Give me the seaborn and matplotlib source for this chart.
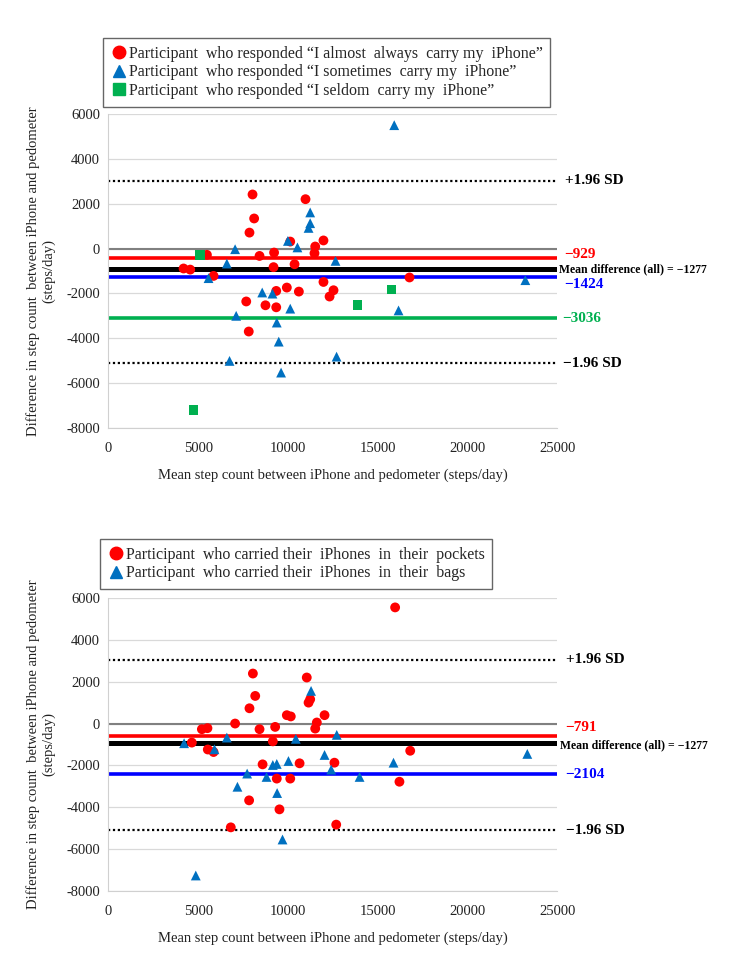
import matplotlib
matplotlib.use("Agg")
import matplotlib.pyplot as plt
from matplotlib.lines import Line2D
import seaborn as sns
import pandas as pd

sns.set_style("white")
plt.rcParams['font.family'] = ['Liberation Serif', 'DejaVu Serif']
plt.rcParams['axes.unicode_minus'] = False

# ---- top panel: by self-reported carrying frequency ----
always_x = [4180, 4550, 5480, 5850, 8020, 8110, 7850, 8410, 7670, 7810, 8740, 9340, 9340, 9220,
            9190, 9930, 10120, 10360, 10600, 10970, 11510, 11470, 11970, 11970, 12530, 12310, 16760]
always_y = [-890, -940, -280, -1220, 2410, 1340, 710, -330, -2360, -3700, -2530, -1890, -2620, -180,
            -830, -1740, 310, -700, -1920, 2200, 90, -210, 360, -1490, -1860, -2140, -1290]
sometimes_x = [15910, 7050, 6590, 5570, 8560, 9130, 7110, 9370, 9480, 6740, 9610, 9990, 10520,
               11230, 11230, 11140, 12640, 12700, 10120, 16150, 23210]
sometimes_y = [5500, -30, -670, -1320, -1960, -2010, -3000, -3300, -4150, -5010, -5530, 340, 50,
               1610, 1130, 920, -550, -4820, -2680, -2760, -1410]
seldom_x = [5100, 4730, 13860, 15760]
seldom_y = [-280, -7210, -2500, -1830]

# ---- bottom panel: by carrying location ----
pocket_x = [15960, 8040, 8170, 7850, 7050, 5200, 5510, 5530, 5850, 4640, 8410, 9280, 9150, 8580,
            9370, 10120, 10640, 7830, 9520, 6810, 12680, 9930, 10150, 11040, 11230, 11140, 11600,
            11510, 12030, 12580, 16200, 16800]
pocket_y = [5550, 2390, 1320, 730, 0, -270, -220, -1240, -1360, -910, -270, -160, -850, -1950,
            -2630, -2630, -1900, -3670, -4100, -4960, -4830, 400, 340, 2200, 1160, 1000, 50,
            -240, 400, -1870, -2780, -1300]
bag_x = [4210, 4860, 5900, 6590, 7180, 7720, 8800, 9150, 9370, 9390, 9690, 10020, 10430, 11280,
         12030, 12400, 12710, 13980, 15870, 23320]
bag_y = [-940, -7260, -1230, -670, -3020, -2390, -2550, -1980, -1930, -3320, -5540, -1790, -730,
         1560, -1500, -2200, -540, -2550, -1870, -1450]

# reference lines as drawn in the figure, with their printed labels
top_lines = [3020, -400, -920, -1290, -3100, -5110]
top_labels = ['+1.96 SD', '\u2212929', 'Mean difference (all) = \u22121277', '\u22121424',
              '\u22123036', '\u22121.96 SD']
bot_lines = [3050, -610, -910, -2420, -5100]
bot_labels = ['+1.96 SD', '\u2212791', 'Mean difference (all) = \u22121277', '\u22122104',
              '\u22121.96 SD']

top_groups = ['Participant  who responded \u201cI almost  always  carry my  iPhone\u201d',
              'Participant  who responded \u201cI sometimes  carry my  iPhone\u201d',
              'Participant  who responded \u201cI seldom  carry my  iPhone\u201d']
bot_groups = ['Participant  who carried their  iPhones  in  their  pockets',
              'Participant  who carried their  iPhones  in  their  bags']

RED, BLUE, GREEN = '#ff0000', '#0070c0', '#00b050'

top_df = pd.concat([
    pd.DataFrame({'x': always_x, 'y': always_y, 'g': top_groups[0]}),
    pd.DataFrame({'x': sometimes_x, 'y': sometimes_y, 'g': top_groups[1]}),
    pd.DataFrame({'x': seldom_x, 'y': seldom_y, 'g': top_groups[2]}),
])
bot_df = pd.concat([
    pd.DataFrame({'x': pocket_x, 'y': pocket_y, 'g': bot_groups[0]}),
    pd.DataFrame({'x': bag_x, 'y': bag_y, 'g': bot_groups[1]}),
])

fig = plt.figure(figsize=(7.38, 9.6), dpi=100)
ax1 = fig.add_axes([0.147, 0.5542, 0.6084, 0.3271])
ax2 = fig.add_axes([0.147, 0.0719, 0.6084, 0.3052])

fs = 10.5
xlab = 'Mean step count between iPhone and pedometer (steps/day)'
ylab = 'Difference in step count  between iPhone and pedometer\n(steps/day)'


def style_axis(ax):
    ax.set_xlim(0, 25000)
    ax.set_ylim(-8000, 6000)
    ax.set_xticks(range(0, 25001, 5000))
    ax.set_yticks(range(-8000, 6001, 2000))
    ax.yaxis.grid(True, color='#d9d9d9', lw=0.9)
    ax.xaxis.grid(False)
    ax.set_axisbelow(True)
    for s in ['top', 'right']:
        ax.spines[s].set_visible(False)
    for s in ['left', 'bottom']:
        ax.spines[s].set_color('#d0d0d0')
    ax.tick_params(axis='y', length=0, labelsize=fs, labelcolor='#222222', pad=6)
    ax.tick_params(axis='x', length=0, labelsize=fs, labelcolor='#222222', pad=10)
    ax.axhline(0, color='#808080', lw=1.5, zorder=1)


def ref_lines(ax, values, labels, colors, widths, styles, offsets, xs, sizes):
    for v, lab, c, w, ls, off, xpos, sz in zip(values, labels, colors, widths, styles, offsets, xs, sizes):
        ax.axhline(v, color=c, lw=w, ls=ls, zorder=2)
        ax.annotate(lab, xy=(xpos, v), xycoords=('axes fraction', 'data'), xytext=(0, off),
                    textcoords='offset points', va='center', ha='left', color=c,
                    fontsize=sz, fontweight='bold', annotation_clip=False)


# top panel
style_axis(ax1)
sns.scatterplot(data=top_df, x='x', y='y', hue='g', style='g',
                palette=[RED, BLUE, GREEN], markers=['o', '^', 's'],
                s=50, edgecolor='none', legend=False, ax=ax1, zorder=3)
ax1.set_xlabel(xlab, fontsize=fs, color='#222222', labelpad=10)
ax1.set_ylabel(ylab, fontsize=fs, color='#222222', labelpad=8)
ref_lines(ax1, top_lines, top_labels,
          ['black', RED, 'black', '#0000ff', GREEN, 'black'],
          [1.6, 2.6, 3.6, 2.6, 2.6, 1.6],
          [(0, (1, 1.2)), '-', '-', '-', '-', (0, (1, 1.2))],
          [0, 2, 0, -5, 0, 0],
          [1.016, 1.016, 1.003, 1.016, 1.01, 1.013],
          [11, 11, 8.5, 11, 11, 11])

# bottom panel
style_axis(ax2)
sns.scatterplot(data=bot_df, x='x', y='y', hue='g', style='g',
                palette=[RED, BLUE], markers=['o', '^'],
                s=50, edgecolor='none', legend=False, ax=ax2, zorder=3)
ax2.set_xlabel(xlab, fontsize=fs, color='#222222', labelpad=10)
ax2.set_ylabel(ylab, fontsize=fs, color='#222222', labelpad=8)
ref_lines(ax2, bot_lines, bot_labels,
          ['black', RED, 'black', '#0000ff', 'black'],
          [1.6, 2.6, 3.6, 2.6, 1.6],
          [(0, (1, 1.2)), '-', '-', '-', (0, (1, 1.2))],
          [0, 6, -2, 0, 0],
          [1.018, 1.018, 1.005, 1.018, 1.018],
          [11, 11, 8.5, 11, 11])


# legends
def make_legend(anchor, labels, colors, markers):
    handles = [Line2D([], [], ls='none', marker=m, color=c, markersize=9) for c, m in zip(colors, markers)]
    leg = fig.legend(handles, labels, loc='upper left', bbox_to_anchor=anchor,
                     bbox_transform=fig.transFigure, frameon=True, fancybox=False,
                     fontsize=11.5, handletextpad=0.1, handlelength=1.0, labelspacing=0.15,
                     borderpad=0.5, borderaxespad=0)
    leg.get_frame().set_edgecolor('#404040')
    leg.get_frame().set_linewidth(1.0)
    return leg


make_legend((103 / 738, 1 - 38 / 960), top_groups, [RED, BLUE, GREEN], ['o', '^', 's'])
make_legend((100 / 738, 1 - 539 / 960), bot_groups, [RED, BLUE], ['o', '^'])

fig.savefig('out.png', dpi=100)
